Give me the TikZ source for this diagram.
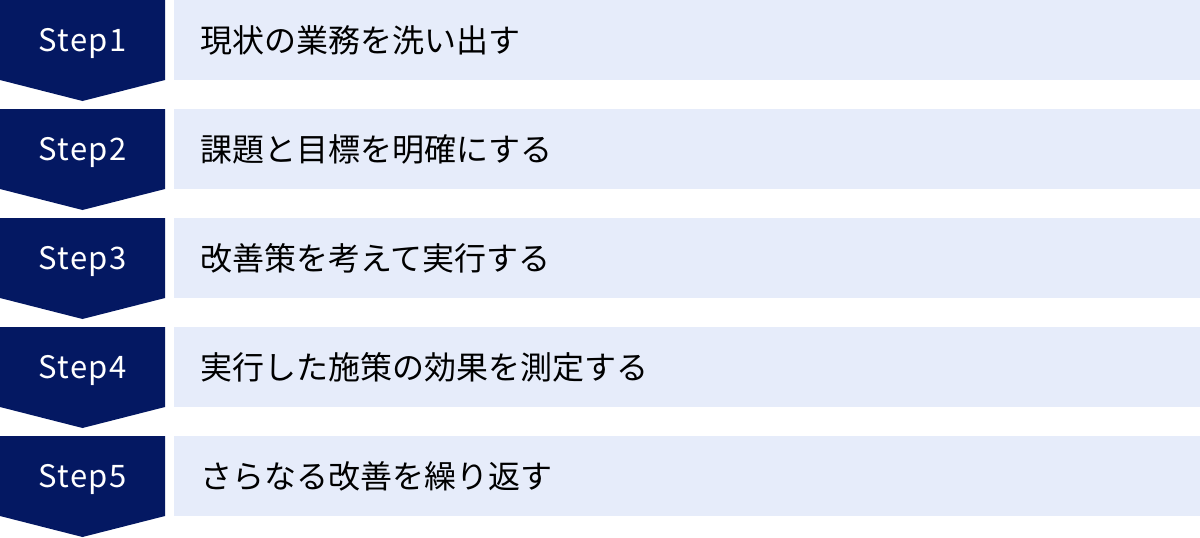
\documentclass[tikz,border=0pt]{standalone}
\usepackage{fontspec}
\setmainfont{Noto Sans CJK JP}
\definecolor{stepnavy}{HTML}{041862}
\definecolor{steplight}{HTML}{E6ECFA}
\begin{document}
\begin{tikzpicture}[x=1pt,y=-1pt,
    steptag/.style={fill=stepnavy,draw=none},
    steplabel/.style={anchor=base,text=white,inner sep=0pt,font=\fontsize{31}{36}\selectfont\addfontfeature{LetterSpace=4}},
    stepbar/.style={fill=steplight,draw=none,inner sep=0pt,minimum width=1026pt,minimum height=80pt},
    steptext/.style={anchor=base west,text=black,inner sep=0pt,font=\fontsize{32}{38}\selectfont}]
\useasboundingbox (0,0) rectangle (1200,538);
{
% Step 1
\fill [steptag] (0,0) -- (165,0) -- (165,80) -- (82.5,101) -- (0,80) -- cycle;%
\node [steplabel] (label1) at (82.5,51.5) {Step1};%
\node [stepbar] (bar1) at (687,40) {};%
\node [steptext] (text1) at (200,52.5) {現状の業務を洗い出す};%

% Step 2
\fill [steptag] (0,109) -- (165,109) -- (165,189) -- (82.5,210) -- (0,189) -- cycle;%
\node [steplabel] (label2) at (82.5,160.5) {Step2};%
\node [stepbar] (bar2) at (687,149) {};%
\node [steptext] (text2) at (200,161.5) {課題と目標を明確にする};%

% Step 3
\fill [steptag] (0,218) -- (165,218) -- (165,298) -- (82.5,319) -- (0,298) -- cycle;%
\node [steplabel] (label3) at (82.5,269.5) {Step3};%
\node [stepbar] (bar3) at (687,258) {};%
\node [steptext] (text3) at (200,270.5) {改善策を考えて実行する};%

% Step 4
\fill [steptag] (0,327) -- (165,327) -- (165,407) -- (82.5,428) -- (0,407) -- cycle;%
\node [steplabel] (label4) at (82.5,378.5) {Step4};%
\node [stepbar] (bar4) at (687,367) {};%
\node [steptext] (text4) at (200,379.5) {実行した施策の効果を測定する};%

% Step 5
\fill [steptag] (0,436) -- (165,436) -- (165,516) -- (82.5,537) -- (0,516) -- cycle;%
\node [steplabel] (label5) at (82.5,487.5) {Step5};%
\node [stepbar] (bar5) at (687,476) {};%
\node [steptext] (text5) at (200,488.5) {さらなる改善を繰り返す};%
}
\end{tikzpicture}
\end{document}
